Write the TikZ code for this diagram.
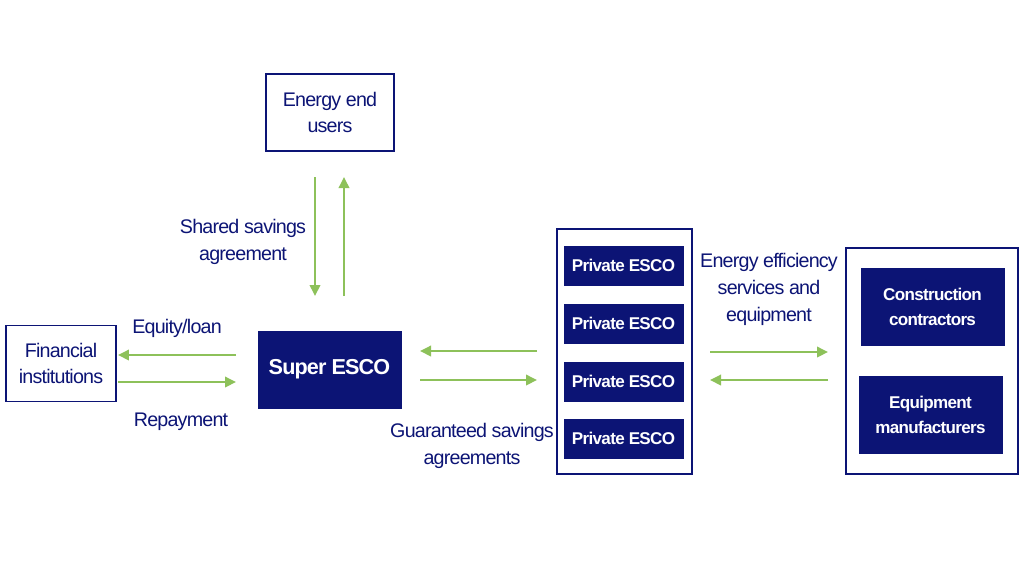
\documentclass[tikz,border=0pt]{standalone}
\usepackage{fontspec}
\setmainfont{Liberation Sans}[LetterSpace=-4]
\usetikzlibrary{arrows.meta}
\definecolor{escoblue}{HTML}{0C1475}
\definecolor{flowgreen}{HTML}{8DC15A}

\begin{document}
\begin{tikzpicture}[x=0.02cm, y=-0.02cm]
    % Define styles
    \tikzset{
        outline/.style={draw=escoblue, line width=1.1pt, text=escoblue, align=center, inner sep=0pt,
            font=\fontsize{11.2}{15.3}\selectfont},
        group/.style={draw=escoblue, line width=1.1pt, inner sep=0pt},
        solid/.style={fill=escoblue, draw=escoblue, text=white, align=center, inner sep=0pt,
            font=\bfseries\fontsize{9.7}{14.2}\selectfont},
        label/.style={text=escoblue, align=center, inner sep=0pt, font=\fontsize{11.2}{15.3}\selectfont},
        flow/.style={flowgreen, line width=1.1pt, -{Triangle[length=0.22cm, width=0.21cm]}}
    }

    % Canvas
    \useasboundingbox (0,0) rectangle (1024,576);

    % Actors
    \node[outline, minimum width=2.56cm, minimum height=1.54cm] (users) at (330,112.5) {Energy end\\users};
    \node[outline, minimum width=2.2cm, minimum height=1.52cm] (finance) at (61,363.5) {Financial\\institutions};
    \node[solid, minimum width=2.86cm, minimum height=1.54cm, font=\bfseries\fontsize{12.3}{15}\selectfont] (super) at (329.5,369.5) {Super ESCO};

    % Private ESCO group
    \node[group, minimum width=2.7cm, minimum height=4.9cm] (privgroup) at (624.5,351.5) {};
    \foreach \y [count=\i] in {265.5,323.5,381.5,438.5} {
        \node[solid, minimum width=2.38cm, minimum height=0.78cm] (priv\i) at (623.5,\y) {Private ESCO};
    }

    % Supplier group
    \node[group, minimum width=3.44cm, minimum height=4.52cm] (suppgroup) at (932,361) {};
    \node[solid, minimum width=2.86cm, minimum height=1.54cm] (builders) at (932.5,306.5) {Construction\\contractors};
    \node[solid, minimum width=2.86cm, minimum height=1.54cm] (makers) at (930.5,414.5) {Equipment\\manufacturers};

    % Arrow end points
    \coordinate (usdown1) at (315,177);
    \coordinate (usdown2) at (315,296);
    \coordinate (usup1) at (344,296);
    \coordinate (usup2) at (344,177);
    \coordinate (loan1) at (236,355);
    \coordinate (loan2) at (118,355);
    \coordinate (repay1) at (118,382);
    \coordinate (repay2) at (236,382);
    \coordinate (gsleft1) at (537,351);
    \coordinate (gsleft2) at (420,351);
    \coordinate (gsright1) at (420,380);
    \coordinate (gsright2) at (537,380);
    \coordinate (eeout1) at (710,352);
    \coordinate (eeout2) at (828,352);
    \coordinate (eein1) at (828,380);
    \coordinate (eein2) at (710,380);

    % Flows
    \draw[flow] (usdown1) -- (usdown2);
    \draw[flow] (usup1) -- (usup2);
    \draw[flow] (loan1) -- (loan2);
    \draw[flow] (repay1) -- (repay2);
    \draw[flow] (gsleft1) -- (gsleft2);
    \draw[flow] (gsright1) -- (gsright2);
    \draw[flow] (eeout1) -- (eeout2);
    \draw[flow] (eein1) -- (eein2);

    % Flow labels
    \node[label] (shared) at (243,242) {Shared savings\\agreement};
    \node[label] (equity) at (177,328) {Equity/loan};
    \node[label] (repayment) at (181,422) {Repayment};
    \node[label] (guaranteed) at (472,446) {Guaranteed savings\\agreements};
    \node[label] (services) at (769,289.5) {Energy efficiency\\services and\\equipment};
\end{tikzpicture}
\end{document}
